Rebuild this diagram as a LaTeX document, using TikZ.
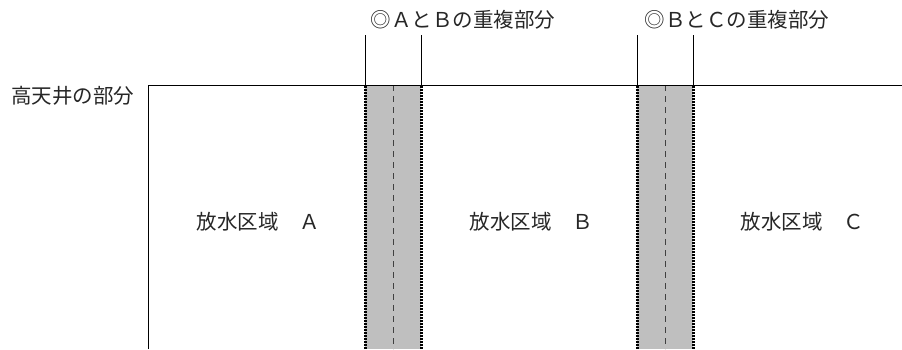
\documentclass[tikz,border=0pt]{standalone}
\usepackage{fontspec}
\newfontfamily\jpfont{Noto Sans CJK JP}
\begin{document}
\begin{tikzpicture}[x=1pt,y=-1pt,
 lab/.style={font=\jpfont\fontsize{20.5}{24}\selectfont,inner sep=0pt,text=black!85},
 edge/.style={line width=1pt},
 seam/.style={line width=3pt,dash pattern=on 1.5pt off 1.5pt},
 mid/.style={line width=.9pt,black!75,dash pattern=on 6pt off 5pt}]
\useasboundingbox (0,0) rectangle (902,349);
% overlap strips
\foreach \l/\r/\m in {365/421/393,637/693/665}{
 \fill[black!25] (\l,85) rectangle (\r,349);
 \draw[mid] (\m,85)--(\m,349);
 \draw[seam] (\l,86)--(\l,349);\draw[seam] (\r,86)--(\r,349);
 \draw[edge] (\l,35)--(\l,85);\draw[edge] (\r,35)--(\r,85);
}
\draw[edge] (148,349)--(148,85)--(902,85);
\node[lab] (ceil) at (73,96) {高天井の部分};
\node[lab] (ovAB) at (463,20) {◎ＡとＢの重複部分};
\node[lab] (ovBC) at (737,20) {◎ＢとＣの重複部分};
\node[lab] (zA) at (258,222) {放水区域　Ａ};
\node[lab] (zB) at (531,222) {放水区域　Ｂ};
\node[lab] (zC) at (802,222) {放水区域　Ｃ};
\end{tikzpicture}
\end{document}
